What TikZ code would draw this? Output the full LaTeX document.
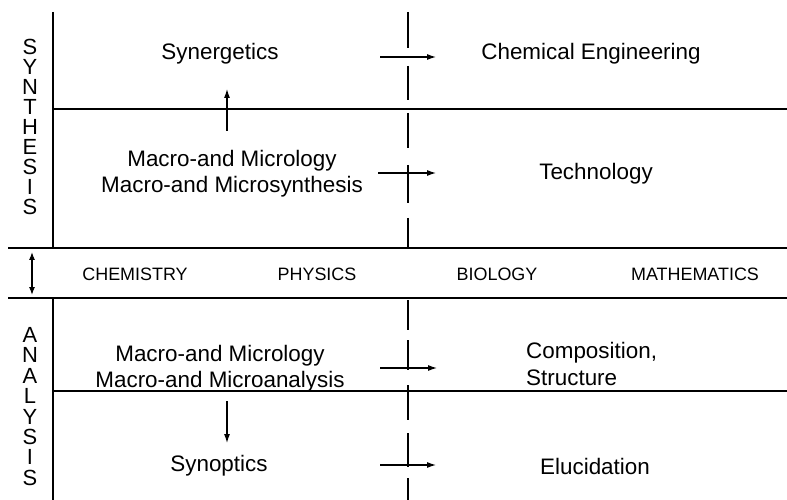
\documentclass[tikz,border=0pt]{standalone}
\usepackage{fontspec}
\setmainfont{Liberation Sans}
\usetikzlibrary{arrows.meta}
\tikzset{
  label/.style={font=\fontsize{22.5}{26}\selectfont, inner sep=0pt},
  field/.style={font=\fontsize{18}{21}\selectfont, inner sep=0pt},
  side/.style={font=\fontsize{22}{20}\selectfont, inner sep=0pt},
  rule/.style={line width=1.7pt},
  flow/.style={line width=1.1pt, -{Latex[length=9pt,width=6pt]}},
}
\begin{document}
\begin{tikzpicture}[x=1bp, y=-1bp]
  \useasboundingbox (0,0) rectangle (787,500);

  % frame
  \draw[rule] (53,12) -- (53,248);
  \draw[rule] (53,299) -- (53,500);
  \draw[rule] (53,109) -- (787,109);
  \draw[rule] (8,248) -- (787,248);
  \draw[rule] (8,298) -- (787,298);
  \draw[rule] (53,391) -- (787,391);

  % dashed divider
  \foreach \ya/\yb in {12/48, 66/100, 113/148, 165/203, 218/248,
                       300/330, 340/370, 385/420, 433/467, 478/500}
    \draw[rule] (408,\ya) -- (408,\yb);

  % side letters
  \foreach \c [count=\i from 0] in {S,Y,N,T,H,E,S,I,S}
    \node[side] (syn\i) at (30,47+20*\i) {\c};
  \foreach \c [count=\i from 0] in {A,N,A,L,Y,S,I,S}
    \node[side] (ana\i) at (30,335+20.4*\i) {\c};

  % synthesis
  \node[label] (synergetics) at (220,54) {Synergetics};
  \node[label] (chemeng) at (591,54) {Chemical Engineering};
  \node[label, align=center] (microsyn) at (232,174) {Macro-and Micrology\\Macro-and Microsynthesis};
  \node[label] (technology) at (596,174) {Technology};

  % fields
  \node[field] (chemistry) at (135,274) {CHEMISTRY};
  \node[field] (physics) at (317,274) {PHYSICS};
  \node[field] (biology) at (497,274) {BIOLOGY};
  \node[field] (maths) at (695,274) {MATHEMATICS};

  % analysis
  \node[label, align=center] (microana) at (220,369) {Macro-and Micrology\\Macro-and Microanalysis};
  \node[label, align=left, anchor=west, font=\fontsize{22.5}{28}\selectfont] (composition) at (526,364) {Composition,\\Structure};
  \node[label] (synoptics) at (219,466) {Synoptics};
  \node[label] (elucidation) at (595,466) {Elucidation};

  % arrows
  \coordinate (a1) at (380,57);  \coordinate (b1) at (436,57);
  \coordinate (a2) at (378,173); \coordinate (b2) at (436,173);
  \coordinate (a3) at (380,368); \coordinate (b3) at (437,368);
  \coordinate (a4) at (380,465); \coordinate (b4) at (436,465);
  \foreach \i in {1,...,4}
    \draw[flow] (a\i) -- (b\i);
  \coordinate (up0) at (227,131);   \coordinate (up1) at (227,89);
  \coordinate (dn0) at (227,401);   \coordinate (dn1) at (227,443);
  \draw[flow] (up0) -- (up1);
  \draw[flow] (dn0) -- (dn1);
  \coordinate (lr0) at (32,252);    \coordinate (lr1) at (32,295);
  \draw[line width=1.1pt, {Latex[length=8pt,width=6pt]}-{Latex[length=8pt,width=6pt]}] (lr0) -- (lr1);
\end{tikzpicture}
\end{document}
